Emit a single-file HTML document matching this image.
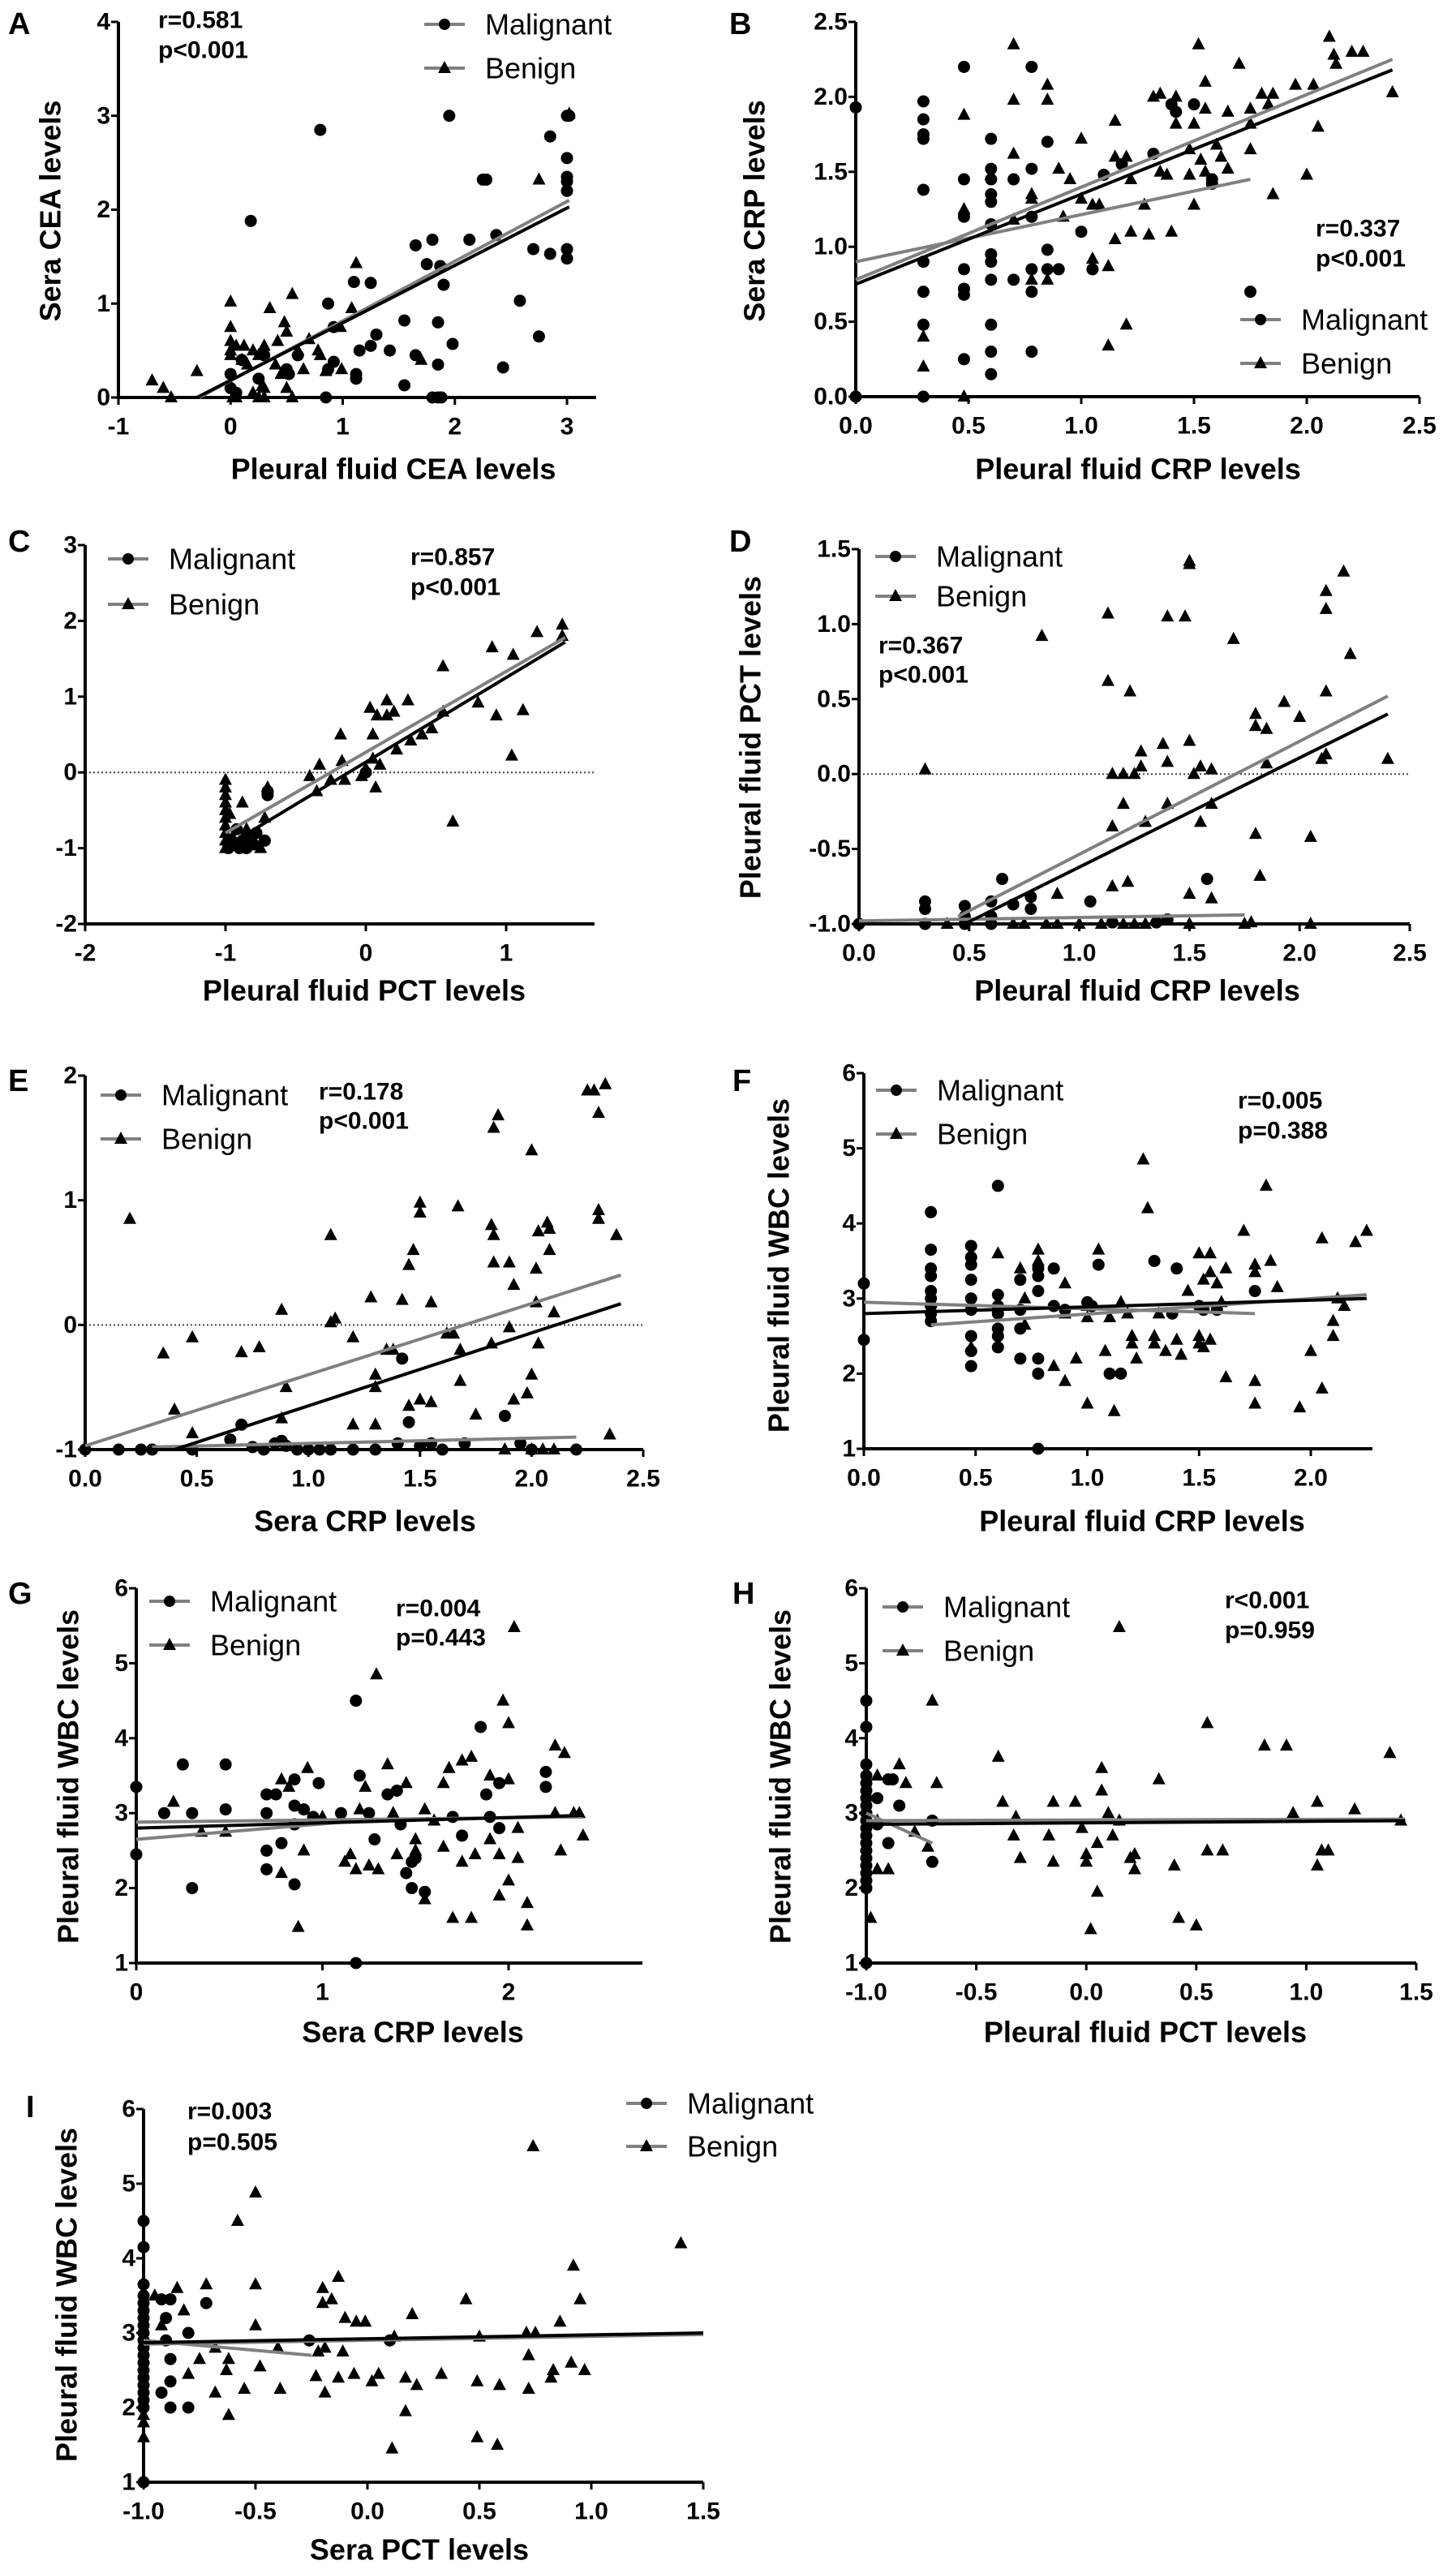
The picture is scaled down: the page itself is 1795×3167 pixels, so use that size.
<!DOCTYPE html>
<html><head><meta charset="utf-8"><style>
html,body{margin:0;padding:0;background:#fff;}
svg{display:block;font-family:"Liberation Sans",Arial,sans-serif;}
</style></head><body>
<svg id="fig" xmlns="http://www.w3.org/2000/svg" width="1795" height="3167" viewBox="0 0 1795 3167"></svg>
<script>
// ---------------- DATA ----------------
const aMal=[[0.8,2.85],[1.95,3],[3,3],[3.02,3],[2.85,2.78],[3,2.55],[3,2.35],[3,2.3],[3,2.2],[2.25,2.32],[2.28,2.32],[0.18,1.88],[1.65,1.62],[1.8,1.68],[2.13,1.68],[2.37,1.73],[2.7,1.58],[2.85,1.53],[3,1.58],[3,1.48],[1.75,1.42],[1.87,1.4],[1.9,1.2],[1.1,1.23],[1.25,1.22],[0.87,1.0],[2.58,1.03],[0.92,0.75],[1.55,0.82],[1.85,0.8],[2.75,0.65],[1.3,0.67],[1.15,0.5],[1.25,0.55],[1.42,0.5],[1.98,0.57],[1.65,0.45],[0.92,0.38],[0.87,0.3],[1.85,0.35],[2.43,0.32],[1.12,0.25],[1.12,0.2],[0.52,0.25],[1.55,0.13],[0.85,0],[1.8,0],[1.85,0],[1.88,0],[0,0.25],[0,0.1],[0.1,0.4],[0.3,0.45],[0.5,0.3],[0.6,0.45],[0.25,0.2],[0.05,0.05]];
const aBen=[[-0.7,0.18],[-0.6,0.1],[-0.53,0],[-0.3,0.28],[0,1.02],[0,0.75],[0,0.6],[0,0.5],[0,0.45],[0.05,0.55],[0.1,0.4],[0.12,0.55],[0.2,0.5],[0.25,0.45],[0.3,0.55],[0.35,0.95],[0.42,0.6],[0.48,0.8],[0.5,0.7],[0.55,1.1],[0.6,0.5],[0.7,0.62],[0.65,0.3],[0.8,0.45],[0.78,0.5],[0.98,0.75],[1.08,0.95],[1.12,1.43],[0.99,0.3],[0.85,0.28],[0.3,0.1],[0.2,0.05],[0.25,0],[0.3,0],[0.5,0.1],[0.55,0],[0.02,0],[0.05,0],[0.28,0.12],[1.7,0.4],[2.75,2.32],[3.02,3.02],[0.15,0.35],[0.4,0.35],[0.45,0.25]];
const aLines=[[-0.28,0,3.02,2.1,"#808080"],[-0.3,0,3.02,2.03,"#000"]];
const aXTicks=[-1,0,1,2,3], aXLabels=["-1","0","1","2","3"];
const aYTicks=[0,1,2,3,4], aYLabels=["0","1","2","3","4"];

const bMal=[[0,1.93],[0,0],[0.3,1.97],[0.3,1.85],[0.3,1.75],[0.3,1.72],[0.3,1.38],[0.3,0.9],[0.3,0.7],[0.3,0.48],[0.3,0],[0.48,2.2],[0.48,1.45],[0.48,1.2],[0.48,0.85],[0.48,0.72],[0.48,0.68],[0.48,0.25],[0.6,1.72],[0.6,1.52],[0.6,1.45],[0.6,1.35],[0.6,1.3],[0.6,1.15],[0.6,0.95],[0.6,0.9],[0.6,0.78],[0.6,0.48],[0.6,0.3],[0.6,0.15],[0.7,1.45],[0.7,0.78],[0.78,2.2],[0.78,1.52],[0.78,1.2],[0.78,0.85],[0.78,0.7],[0.78,0.3],[0.85,1.7],[0.85,0.98],[0.85,0.85],[0.9,0.85],[1.0,1.1],[1.05,0.85],[1.1,1.48],[1.18,1.55],[1.32,1.62],[1.4,1.95],[1.42,1.9],[1.5,1.95],[1.58,1.45],[1.75,0.7],[1.58,1.42]];
const bBen=[[0.3,0.4],[0.3,0.2],[0.48,0],[0.48,1.88],[0.48,1.25],[0.6,1.48],[0.7,2.35],[0.7,1.98],[0.7,1.62],[0.7,1.18],[0.78,1.35],[0.78,1.32],[0.78,0.78],[0.85,2.08],[0.85,1.98],[0.85,0.78],[0.9,1.52],[0.92,1.2],[0.95,1.45],[1.0,1.72],[1.0,1.32],[1.05,1.28],[1.05,0.92],[1.08,1.28],[1.12,0.87],[1.12,0.34],[1.15,1.84],[1.15,1.6],[1.15,1.05],[1.2,1.6],[1.22,1.45],[1.2,0.48],[1.22,1.1],[1.28,1.28],[1.3,1.08],[1.32,2],[1.35,2.02],[1.35,1.5],[1.38,1.48],[1.42,2],[1.42,1.82],[1.4,1.1],[1.48,1.65],[1.48,1.48],[1.5,1.82],[1.52,2.35],[1.5,1.28],[1.53,1.58],[1.55,1.92],[1.55,2.1],[1.55,1.5],[1.6,1.68],[1.62,1.6],[1.65,1.9],[1.65,1.52],[1.7,2.22],[1.75,1.92],[1.75,1.65],[1.75,1.82],[1.8,2.02],[1.83,1.95],[1.85,2.02],[1.85,1.35],[1.95,2.08],[2.0,1.48],[2.03,2.08],[2.05,1.8],[2.1,2.4],[2.12,2.28],[2.13,2.22],[2.2,2.3],[2.25,2.3],[2.38,2.03]];
const bLines=[[0,0.9,1.75,1.45,"#808080"],[0,0.78,2.38,2.25,"#808080"],[0,0.75,2.38,2.18,"#000"]];
const bXTicks=[0,0.5,1,1.5,2,2.5], bXLabels=["0.0","0.5","1.0","1.5","2.0","2.5"];
const bYTicks=[0,0.5,1,1.5,2,2.5], bYLabels=["0.0","0.5","1.0","1.5","2.0","2.5"];

const cMal=[[-0.98,-1],[-0.95,-0.95],[-0.9,-1],[-0.88,-0.9],[-0.85,-1],[-0.8,-0.95],[-0.72,-0.9],[-0.7,-0.25],[-0.7,-0.3],[-0.92,-0.75],[-0.85,-0.85],[-0.78,-0.8],[0,0]];
const cBen=[[-1,-0.1],[-1,-0.2],[-1,-0.3],[-1,-0.4],[-1,-0.5],[-1,-0.6],[-1,-0.7],[-1,-0.8],[-1,-0.9],[-1,-1],[-0.97,-0.55],[-0.95,-0.85],[-0.9,-0.95],[-0.88,-0.4],[-0.85,-0.75],[-0.8,-0.95],[-0.75,-1],[-0.72,-0.6],[-0.7,-0.2],[-0.4,-0.05],[-0.35,-0.25],[-0.33,0.1],[-0.25,-0.1],[-0.18,0.5],[-0.17,0.15],[-0.15,-0.1],[-0.03,-0.05],[0,0.05],[0.03,0.85],[0.05,0.5],[0.05,0.18],[0.07,-0.2],[0.08,0.75],[0.1,0.1],[0.15,0.95],[0.15,0.75],[0.2,0.8],[0.22,0.3],[0.3,0.95],[0.32,0.42],[0.4,0.5],[0.47,0.58],[0.55,1.4],[0.55,0.8],[0.62,-0.65],[0.8,0.92],[0.9,1.65],[0.93,0.75],[1.04,0.22],[1.05,1.55],[1.12,0.82],[1.22,1.85],[1.4,1.95],[1.4,1.8]];
const cLines=[[-1,-0.8,1.42,1.78,"#808080"],[-1,-0.98,1.42,1.72,"#000"]];
const cXTicks=[-2,-1,0,1], cXLabels=["-2","-1","0","1"];
const cYTicks=[-2,-1,0,1,2,3], cYLabels=["-2","-1","0","1","2","3"];

const dMal=[[0,-1],[0.3,-0.85],[0.3,-0.9],[0.3,-1],[0.48,-0.88],[0.48,-0.95],[0.48,-1],[0.6,-0.85],[0.6,-0.95],[0.65,-0.7],[0.7,-0.87],[0.78,-0.82],[0.78,-0.9],[0.6,-1],[1.05,-0.85],[1.58,-0.7],[1.4,-0.97],[1.35,-0.99],[1.15,-0.99]];
const dBen=[[0.3,0.03],[0.83,0.92],[1.13,1.07],[1.13,0.62],[1.4,1.05],[1.48,1.05],[1.23,0.55],[1.5,1.42],[1.5,1.4],[1.7,0.9],[2.12,1.22],[2.12,1.1],[2.2,1.35],[2.23,0.8],[2.12,0.55],[1.8,0.4],[1.8,0.32],[1.85,0.3],[1.93,0.48],[2.0,0.38],[2.1,0.1],[2.12,0.13],[2.4,0.1],[1.28,0.15],[1.38,0.2],[1.5,0.22],[1.4,0.08],[1.28,0.05],[1.15,0],[1.2,0],[1.25,0],[1.52,0],[1.55,0.05],[1.6,0.03],[1.85,0.07],[1.2,-0.2],[1.4,-0.2],[1.6,-0.2],[1.3,-0.32],[1.15,-0.35],[1.55,-0.32],[1.8,-0.4],[2.05,-0.42],[1.15,-0.75],[1.22,-0.72],[1.82,-0.68],[1.5,-0.8],[1.6,-0.83],[0.9,-0.8],[0.4,-1],[0.6,-0.98],[0.7,-1],[0.75,-1],[0.85,-1],[0.9,-1],[1.0,-1],[1.1,-1],[1.2,-1],[1.25,-1],[1.3,-1],[1.5,-1],[1.75,-1],[1.78,-0.99],[2.05,-1]];
const dLines=[[0,-0.98,1.75,-0.94,"#808080"],[0.45,-0.95,2.4,0.52,"#808080"],[0.48,-1,2.4,0.4,"#000"]];
const dXTicks=[0,0.5,1,1.5,2,2.5], dXLabels=["0.0","0.5","1.0","1.5","2.0","2.5"];
const dYTicks=[-1,-0.5,0,0.5,1,1.5], dYLabels=["-1.0","-0.5","0.0","0.5","1.0","1.5"];

const eMal=[[0,-1],[0.15,-1],[0.25,-1],[0.3,-1],[0.48,-1],[0.65,-0.92],[0.7,-0.8],[0.75,-0.98],[0.85,-0.95],[0.88,-0.93],[0.9,-0.97],[0.95,-1],[1.0,-1],[1.1,-1],[1.2,-1],[1.3,-1],[1.4,-0.95],[1.42,-0.27],[1.45,-0.78],[1.5,-0.97],[1.55,-0.95],[1.7,-0.95],[1.88,-0.73],[1.95,-0.95],[2.0,-1],[2.2,-1],[1.05,-1],[1.6,-1],[0.8,-1]];
const eBen=[[0.2,0.85],[0.35,-0.23],[0.48,-0.1],[0.4,-0.68],[0.48,-0.87],[0.7,-0.22],[0.78,-0.18],[0.88,0.12],[0.88,-0.75],[0.9,-0.5],[1.1,0.02],[1.12,0.05],[1.1,0.72],[1.2,-0.1],[1.28,0.22],[1.3,-0.5],[1.3,-0.4],[1.35,-0.2],[1.38,-0.2],[1.42,0.2],[1.45,0.48],[1.47,0.6],[1.5,0.9],[1.5,0.98],[1.45,-0.65],[1.5,-0.6],[1.55,0.18],[1.55,-0.62],[1.62,-0.07],[1.65,-0.07],[1.67,0.95],[1.68,-0.2],[1.68,-0.45],[1.75,-0.72],[1.82,0.8],[1.83,0.72],[1.83,0.5],[1.82,-0.15],[1.83,1.58],[1.85,1.68],[1.9,0.5],[1.92,0.32],[1.9,-0.02],[1.92,-0.6],[1.98,-0.55],[2.0,-0.4],[2.0,1.4],[2.02,0.45],[2.02,0.18],[2.03,0.75],[2.03,-0.15],[2.07,0.82],[2.08,0.77],[2.08,0.6],[2.1,0.1],[2.3,0.92],[2.3,0.85],[2.28,1.88],[2.3,1.7],[2.33,1.93],[2.38,0.72],[2.35,-0.88],[2.25,1.88],[1.2,-0.8],[1.3,-0.8],[1.88,-1],[2.0,-1],[2.05,-1],[2.1,-1]];
const eLines=[[0,-0.97,2.4,0.4,"#808080"],[0.3,-0.98,2.2,-0.9,"#808080"],[0.4,-1,2.4,0.17,"#000"],[0,-1,2.4,-1,"#000"]];
const eXTicks=[0,0.5,1,1.5,2,2.5], eXLabels=["0.0","0.5","1.0","1.5","2.0","2.5"];
const eYTicks=[-1,0,1,2], eYLabels=["-1","0","1","2"];

const fMal=[[0,3.2],[0,2.45],[0.3,4.15],[0.3,3.65],[0.3,3.4],[0.3,3.3],[0.3,3.1],[0.3,3.0],[0.3,2.9],[0.3,2.8],[0.3,2.7],[0.48,3.7],[0.48,3.55],[0.48,3.45],[0.48,3.25],[0.48,3.0],[0.48,2.85],[0.48,2.5],[0.48,2.3],[0.48,2.1],[0.6,4.5],[0.6,3.05],[0.6,2.9],[0.6,2.8],[0.6,2.6],[0.6,2.5],[0.6,2.35],[0.7,3.25],[0.7,2.85],[0.7,2.6],[0.7,2.2],[0.78,3.4],[0.78,3.3],[0.78,3.1],[0.78,2.2],[0.78,2.0],[0.78,1.0],[0.85,3.4],[0.85,2.9],[0.9,2.85],[1.0,2.95],[1.02,2.9],[1.05,3.45],[1.1,2.0],[1.15,2.0],[1.3,3.5],[1.4,3.4],[1.38,2.8],[1.5,2.9],[1.52,2.85],[1.75,3.1],[1.58,2.85]];
const fBen=[[0.3,2.95],[0.48,3.6],[0.48,2.35],[0.6,3.6],[0.7,3.4],[0.72,3.0],[0.72,2.65],[0.78,3.65],[0.78,3.5],[0.85,2.1],[0.9,3.2],[0.9,2.8],[0.9,1.9],[0.95,2.2],[1.0,2.9],[1.0,2.75],[1.0,1.6],[1.05,3.65],[1.08,2.3],[1.1,2.75],[1.12,1.5],[1.15,2.95],[1.18,2.8],[1.2,2.5],[1.25,4.85],[1.27,4.2],[1.2,2.4],[1.22,2.2],[1.3,2.5],[1.3,2.4],[1.32,2.8],[1.35,2.3],[1.4,2.45],[1.42,2.25],[1.45,3.1],[1.5,3.6],[1.52,3.25],[1.5,2.4],[1.55,3.6],[1.55,3.35],[1.58,3.2],[1.6,2.95],[1.62,3.4],[1.62,1.95],[1.7,3.9],[1.75,3.45],[1.75,3.35],[1.75,1.9],[1.75,1.6],[1.8,4.5],[1.82,3.5],[1.85,3.15],[1.95,1.55],[2.0,2.3],[2.05,3.8],[2.05,1.8],[2.1,2.7],[2.1,2.5],[2.15,2.9],[2.2,3.75],[2.25,3.9],[2.12,3.0],[1.52,2.35],[1.55,2.45],[1.5,2.5]];
const fLines=[[0,2.95,1.75,2.8,"#808080"],[0.3,2.65,2.25,3.05,"#808080"],[0,2.8,2.25,3.0,"#000"]];
const fXTicks=[0,0.5,1,1.5,2], fXLabels=["0.0","0.5","1.0","1.5","2.0"];
const wYTicks=[1,2,3,4,5,6], wYLabels=["1","2","3","4","5","6"];

const gMal=[[0,3.35],[0,2.45],[0.15,3.0],[0.25,3.65],[0.3,3.0],[0.3,2.0],[0.48,3.65],[0.48,3.05],[0.7,3.25],[0.7,3.0],[0.7,2.5],[0.7,2.25],[0.75,3.25],[0.78,2.6],[0.85,3.45],[0.85,3.1],[0.85,2.85],[0.85,2.05],[0.9,3.05],[0.98,3.4],[0.95,2.95],[1.1,3.0],[1.18,4.5],[1.18,1.0],[1.2,3.5],[1.25,3.0],[1.28,2.65],[1.35,3.25],[1.4,3.3],[1.42,2.85],[1.45,2.2],[1.48,2.35],[1.48,2.0],[1.55,1.95],[1.7,2.95],[1.75,2.7],[1.85,4.15],[1.88,3.25],[1.9,2.95],[1.95,2.8],[2.2,3.55],[2.2,3.35],[1.95,3.4],[1.5,2.4]];
const gBen=[[0.2,3.15],[0.35,2.75],[0.48,2.75],[0.78,2.2],[0.78,3.45],[0.82,3.35],[0.87,1.48],[0.92,3.6],[0.9,2.5],[1.0,2.95],[1.12,2.35],[1.15,2.45],[1.18,2.25],[1.2,3.05],[1.23,3.35],[1.25,2.3],[1.3,2.25],[1.29,4.85],[1.35,3.65],[1.38,3.0],[1.4,2.45],[1.45,3.4],[1.5,2.65],[1.5,2.5],[1.55,3.05],[1.55,1.85],[1.6,2.9],[1.65,3.4],[1.65,2.55],[1.68,3.6],[1.7,1.6],[1.75,3.7],[1.75,2.35],[1.8,3.75],[1.8,1.6],[1.82,2.45],[1.9,2.65],[1.9,3.5],[1.95,2.45],[1.95,1.9],[1.97,4.5],[2.0,4.2],[2.0,3.45],[2.0,2.1],[2.03,5.48],[2.05,2.4],[2.05,2.8],[2.1,1.8],[2.1,1.5],[2.25,3.9],[2.28,2.5],[2.3,3.8],[2.35,3.0],[2.4,2.7],[2.38,3.0],[2.25,3.0]];
const gLines=[[0,2.65,1.3,2.92,"#808080"],[0,2.88,2.4,2.95,"#808080"],[0,2.8,2.4,2.97,"#000"]];
const gXTicks=[0,1,2], gXLabels=["0","1","2"];

const hMal=[[-1,4.5],[-1,4.15],[-1,3.65],[-1,3.5],[-1,3.4],[-1,3.3],[-1,3.2],[-1,3.1],[-1,3.0],[-1,2.9],[-1,2.8],[-1,2.7],[-1,2.6],[-1,2.5],[-1,2.4],[-1,2.3],[-1,2.2],[-1,2.1],[-1,2.0],[-1,1.0],[-0.95,3.2],[-0.9,3.45],[-0.88,3.45],[-0.85,3.1],[-0.9,2.6],[-0.7,2.35],[-0.7,2.9],[-0.95,2.85]];
const hBen=[[-0.98,1.6],[-0.95,2.25],[-0.85,3.65],[-0.82,3.4],[-0.78,2.75],[-0.7,4.5],[-0.68,3.4],[-0.72,2.55],[-0.9,2.25],[-0.4,3.75],[-0.38,3.15],[-0.32,2.95],[-0.33,2.7],[-0.3,2.4],[-0.17,2.7],[-0.15,2.35],[-0.15,3.15],[-0.05,3.15],[-0.02,2.8],[0,2.45],[0,2.35],[0.02,1.45],[0.05,1.95],[0.05,2.6],[0.07,3.6],[0.07,3.3],[0.1,3.0],[0.12,2.7],[0.15,2.9],[0.15,5.48],[0.2,2.4],[0.22,2.45],[0.22,2.25],[0.33,3.45],[0.4,2.3],[0.42,1.6],[0.5,1.5],[0.55,4.2],[0.55,2.5],[0.62,2.5],[0.81,3.9],[0.91,3.9],[0.94,3.0],[1.05,2.3],[1.05,3.15],[1.07,2.5],[1.1,2.5],[1.22,3.05],[1.38,3.8],[1.43,2.9],[-0.95,2.9],[-0.95,3.5]];
const hLines=[[-1,3.0,-0.7,2.6,"#808080"],[-1,2.9,1.45,2.92,"#808080"],[-1,2.85,1.45,2.9,"#000"]];
const pXTicks=[-1,-0.5,0,0.5,1,1.5], pXLabels=["-1.0","-0.5","0.0","0.5","1.0","1.5"];

const iMal=[[-1,4.5],[-1,4.15],[-1,3.65],[-1,3.5],[-1,3.4],[-1,3.3],[-1,3.2],[-1,3.1],[-1,3.0],[-1,2.9],[-1,2.8],[-1,2.7],[-1,2.6],[-1,2.5],[-1,2.4],[-1,2.3],[-1,2.2],[-1,2.1],[-1,2.0],[-1,1.0],[-0.92,3.45],[-0.9,3.2],[-0.88,3.45],[-0.9,2.9],[-0.88,2.65],[-0.88,2.35],[-0.92,2.2],[-0.88,2.0],[-0.8,2.0],[-0.72,3.4],[-0.8,3.0],[-0.26,2.9],[0.1,2.9]];
const iBen=[[-1,1.6],[-1,1.8],[-1,1.9],[-0.95,3.5],[-0.92,3.1],[-0.85,3.6],[-0.82,3.3],[-0.8,2.45],[-0.75,2.65],[-0.72,3.65],[-0.68,2.8],[-0.68,2.2],[-0.63,2.5],[-0.62,2.65],[-0.62,1.9],[-0.58,4.5],[-0.55,2.25],[-0.5,4.88],[-0.5,3.65],[-0.5,3.1],[-0.48,2.55],[-0.4,2.8],[-0.39,2.25],[-0.23,2.42],[-0.22,2.75],[-0.2,3.6],[-0.2,3.4],[-0.19,2.2],[-0.19,2.8],[-0.16,3.45],[-0.13,3.75],[-0.13,2.4],[-0.11,2.75],[-0.1,3.2],[-0.06,2.45],[-0.05,3.15],[-0.01,3.15],[0.02,2.35],[0.05,2.45],[0.11,1.45],[0.12,2.95],[0.17,2.4],[0.17,1.95],[0.2,3.25],[0.22,2.3],[0.33,2.45],[0.44,3.45],[0.49,2.35],[0.49,1.6],[0.5,2.95],[0.58,1.5],[0.59,2.3],[0.71,3.0],[0.72,2.7],[0.72,2.25],[0.74,5.5],[0.75,3.0],[0.82,2.4],[0.83,2.5],[0.86,3.15],[0.91,2.6],[0.92,3.9],[0.95,3.45],[0.97,2.5],[1.4,4.2]];
const iLines=[[-1,2.9,-0.25,2.7,"#808080"],[-1,2.85,1.5,2.98,"#808080"],[-1,2.87,1.5,3.0,"#000"]];

// ---------------- DRAW ----------------
const NS="http://www.w3.org/2000/svg";
const svg=document.getElementById('fig');
function mk(tag,attrs,parent){const e=document.createElementNS(NS,tag);for(const k in attrs)e.setAttribute(k,attrs[k]);(parent||svg).appendChild(e);return e;}
function txt(s,x,y,size,weight,anchor,parent,rot){const t=mk('text',{x:x,y:y,'font-size':size,'font-weight':weight,'text-anchor':anchor||'start','dominant-baseline':'central',fill:'#000'},parent);if(rot)t.setAttribute('transform','rotate(-90 '+x+' '+y+')');t.textContent=s;return t;}

function panel(id,L,mal,ben,lines,xt,xl,yt,yl){
  const g=mk('g',{});
  
  
  const sx=v=>L.xp0+(v-L.xv0)*(L.xp1-L.xp0)/(L.xv1-L.xv0);
  const sy=v=>L.yp0+(v-L.yv0)*(L.yp1-L.yp0)/(L.yv1-L.yv0);
  const ax=sx(L.xAxisAt), yb=sy(L.yv0), yt0=sy(L.yv1);
  const xe=L.xEnd||sx(L.xv1);
  if(L.zero){const z=mk('line',{x1:ax,x2:xe,y1:sy(0),y2:sy(0),stroke:'#444','stroke-width':2,'stroke-dasharray':'2,3'},g);
    
    }
  const ya=mk('line',{x1:ax,x2:ax,y1:yt0,y2:yb+2,stroke:'#000','stroke-width':4},g);
  
  
  const xa=mk('line',{x1:ax-2,x2:xe,y1:yb,y2:yb,stroke:'#000','stroke-width':4},g);
  
  
  xt.forEach((v,i)=>{const x=sx(v);mk('line',{x1:x,x2:x,y1:yb,y2:yb+9,stroke:'#000','stroke-width':3},g);
    const t=txt(xl[i],x,yb+36,30,'bold','middle',g);
    
    });
  yt.forEach((v,i)=>{const y=sy(v);mk('line',{x1:ax-9,x2:ax,y1:y,y2:y,stroke:'#000','stroke-width':3},g);
    const t=txt(yl[i],ax-10,y,30,'bold','end',g);
    
    });
  mal.forEach(p=>{const c=mk('circle',{cx:sx(p[0]),cy:sy(p[1]),r:7.5,fill:'#000'},g);
    
    });
  ben.forEach(p=>{const x=sx(p[0]),y=sy(p[1]);const t=mk('polygon',{points:(x)+','+(y-9)+' '+(x-8)+','+(y+6)+' '+(x+8)+','+(y+6),fill:'#000'},g);
    
    });
  lines.forEach(l=>{const r=mk('line',{x1:sx(l[0]),y1:sy(l[1]),x2:sx(l[2]),y2:sy(l[3]),stroke:l[4],'stroke-width':4},g);
    
    });
  // letter
  const le=txt(id,L.letter[0],L.letter[1],38,'bold','start',g);
  
  
  const xtl=txt(L.xtitle,L.xtPos[0],L.xtPos[1],36,'bold','middle',g);
  
  
  if(L.ytitle){const ytl=txt(L.ytitle,L.ytPos[0],L.ytPos[1],36,'bold','middle',g,true);
    
    }
  const s1=txt(L.stats[0],L.stPos[0],L.stPos[1],30,'bold','start',g);
  
  
  const s2=txt(L.stats[1],L.stPos[0],L.stPos[2],30,'bold','start',g);
  
  
  // legend
  const lx=L.leg[0], ly1=L.leg[1], ly2=L.leg[2];
  const lg=mk('g',{},g);
  
  
  mk('line',{x1:lx,x2:lx+50,y1:ly1,y2:ly1,stroke:'#808080','stroke-width':4},lg);
  mk('circle',{cx:lx+25,cy:ly1,r:7,fill:'#000'},lg);
  const m=txt('Malignant',lx+75,ly1,36,'normal','start',lg);
  
  
  mk('line',{x1:lx,x2:lx+50,y1:ly2,y2:ly2,stroke:'#808080','stroke-width':4},lg);
  mk('polygon',{points:(lx+25)+','+(ly2-9)+' '+(lx+17)+','+(ly2+6)+' '+(lx+33)+','+(ly2+6),fill:'#000'},lg);
  const b=txt('Benign',lx+75,ly2,36,'normal','start',lg);
  
  
}

panel('A',{xv0:-1,xp0:146,xv1:3,xp1:699,xEnd:735,xAxisAt:-1,yv0:0,yp0:490,yv1:4,yp1:27,letter:[10,30],xtitle:'Pleural fluid CEA levels',xtPos:[485,578],ytitle:'Sera CEA levels',ytPos:[62,260],stats:['r=0.581','p<0.001'],stPos:[195,25,62],leg:[523,30,84]},aMal,aBen,aLines,aXTicks,aXLabels,aYTicks,aYLabels);
panel('B',{xv0:0,xp0:1055,xv1:2.5,xp1:1750,xAxisAt:0,yv0:0,yp0:489,yv1:2.5,yp1:27,letter:[899,30],xtitle:'Pleural fluid CRP levels',xtPos:[1403,578],ytitle:'Sera CRP levels',ytPos:[930,260],stats:['r=0.337','p<0.001'],stPos:[1622,282,319],leg:[1529,394,448]},bMal,bBen,bLines,bXTicks,bXLabels,bYTicks,bYLabels);
panel('C',{xv0:-2,xp0:105,xv1:1,xp1:624,xEnd:733,xAxisAt:-2,yv0:-2,yp0:1139,yv1:3,yp1:672,zero:true,letter:[10,668],xtitle:'Pleural fluid PCT levels',xtPos:[449,1221],stats:['r=0.857','p<0.001'],stPos:[506,687,724],leg:[133,689,745]},cMal,cBen,cLines,cXTicks,cXLabels,cYTicks,cYLabels);
panel('D',{xv0:0,xp0:1059,xv1:2.5,xp1:1738,xAxisAt:0,yv0:-1,yp0:1139,yv1:1.5,yp1:677,zero:true,letter:[899,668],xtitle:'Pleural fluid CRP levels',xtPos:[1402,1221],ytitle:'Pleural fluid PCT levels',ytPos:[925,909],stats:['r=0.367','p<0.001'],stPos:[1083,796,832],leg:[1079,686,735]},dMal,dBen,dLines,dXTicks,dXLabels,dYTicks,dYLabels);
panel('E',{xv0:0,xp0:105,xv1:2.5,xp1:793,xAxisAt:0,yv0:-1,yp0:1787,yv1:2,yp1:1326,zero:true,letter:[10,1333],xtitle:'Sera CRP levels',xtPos:[450,1875],stats:['r=0.178','p<0.001'],stPos:[393,1346,1382],leg:[124,1350,1404]},eMal,eBen,eLines,eXTicks,eXLabels,eYTicks,eYLabels);
panel('F',{xv0:0,xp0:1065,xv1:2,xp1:1616,xEnd:1692,xAxisAt:0,yv0:1,yp0:1786,yv1:6,yp1:1323,letter:[903,1333],xtitle:'Pleural fluid CRP levels',xtPos:[1408,1875],ytitle:'Pleural fluid WBC levels',ytPos:[960,1560],stats:['r=0.005','p=0.388'],stPos:[1526,1357,1394],leg:[1080,1344,1398]},fMal,fBen,fLines,fXTicks,fXLabels,wYTicks,wYLabels);
panel('G',{xv0:0,xp0:168,xv1:2,xp1:627,xEnd:792,xAxisAt:0,yv0:1,yp0:2420,yv1:6,yp1:1958,letter:[10,1965],xtitle:'Sera CRP levels',xtPos:[509,2505],ytitle:'Pleural fluid WBC levels',ytPos:[84,2190],stats:['r=0.004','p=0.443'],stPos:[488,1983,2019],leg:[184,1974,2028]},gMal,gBen,gLines,gXTicks,gXLabels,wYTicks,wYLabels);
panel('H',{xv0:-1,xp0:1068,xv1:1.5,xp1:1746,xAxisAt:-1,yv0:1,yp0:2420,yv1:6,yp1:1958,letter:[903,1965],xtitle:'Pleural fluid PCT levels',xtPos:[1412,2505],ytitle:'Pleural fluid WBC levels',ytPos:[962,2190],stats:['r<0.001','p=0.959'],stPos:[1510,1973,2010],leg:[1088,1981,2035]},hMal,hBen,hLines,pXTicks,pXLabels,wYTicks,wYLabels);
panel('I',{xv0:-1,xp0:177,xv1:1.5,xp1:867,xAxisAt:-1,yv0:1,yp0:3060,yv1:6,yp1:2600,letter:[32,2598],xtitle:'Sera PCT levels',xtPos:[517,3143],ytitle:'Pleural fluid WBC levels',ytPos:[82,2829],stats:['r=0.003','p=0.505'],stPos:[231,2603,2641],leg:[772,2593,2646]},iMal,iBen,iLines,pXTicks,pXLabels,wYTicks,wYLabels);
</script>
</body></html>
